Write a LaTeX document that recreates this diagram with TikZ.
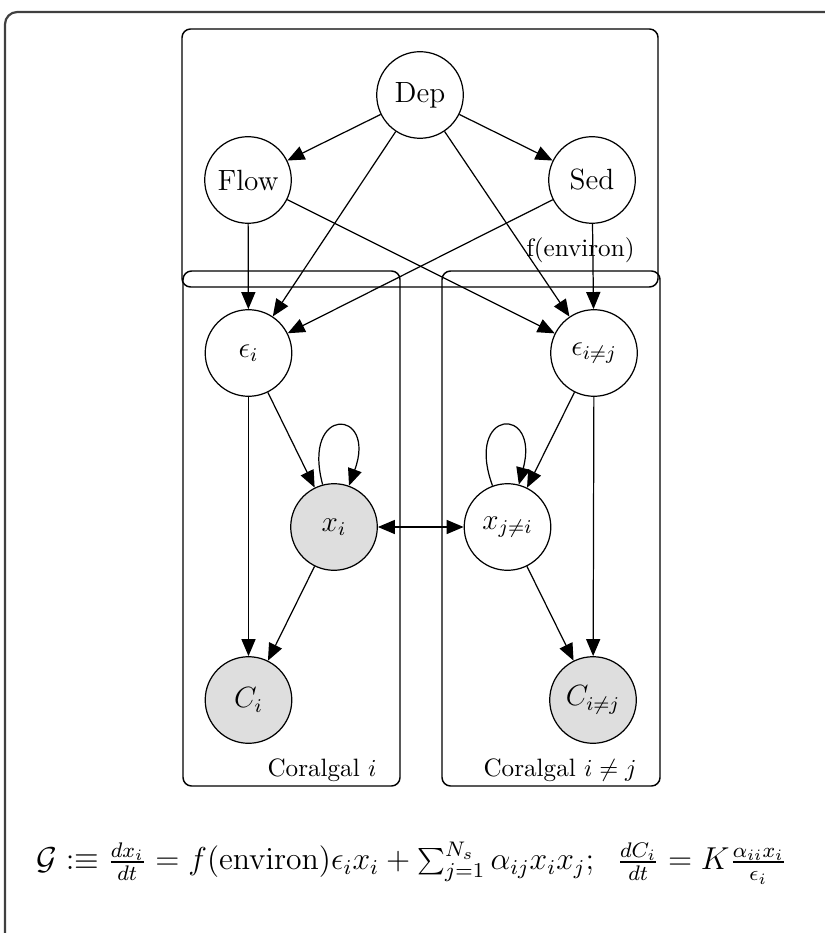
\documentclass[tikz,border=0pt]{standalone}
\usetikzlibrary{arrows.meta}
\begin{document}
\begin{tikzpicture}[x=0.41pt,y=-0.41pt,
  >={Triangle[length=7pt,width=5.8pt]},
  latent/.style={circle,draw,line width=0.5pt,minimum size=35.5pt,inner sep=0pt,font=\large},
  obs/.style={latent,fill=black!13},
  plate/.style={draw,line width=0.6pt,rounded corners=3.5pt},
  edge/.style={->,line width=0.5pt},
  lbl/.style={anchor=base east,inner sep=0pt,font=\fontsize{10.3}{12}\selectfont}]
\useasboundingbox (0,0) rectangle (824,933);
\draw[line width=0.9pt,black!75,rounded corners=5pt] (5,12) rectangle (850,960);
% plates
\draw[plate] (182,29) rectangle (658,287);
\draw[plate] (183,271) rectangle (400,786);
\draw[plate] (442,271) rectangle (660,786);
% nodes
\node[latent] (dep) at (420,95) {Dep};
\node[latent] (flow) at (248,180) {Flow};
\node[latent] (sed) at (592,180) {Sed};
\node[latent] (ei) at (248.5,353) {$\epsilon_i$};
\node[latent] (ej) at (594,353) {$\epsilon_{i\neq j}$};
\node[obs] (xi) at (334,527) {$x_i$};
\node[latent] (xj) at (507.5,527) {$x_{j\neq i}$};
\node[obs] (ci) at (248.5,700) {$C_i$};
\node[obs] (cj) at (593,700) {$C_{i\neq j}$};
% labels
\node[lbl] (fenv) at (635,257) {f(environ)};
\node[lbl] (labi) at (377,776) {Coralgal $i$};
\node[lbl] (labj) at (637,776) {Coralgal $i\neq j$};
\node[font=\large] (eq) at (411.5,863) {\scalebox{1.082}{$\mathcal{G} :\equiv \frac{dx_i}{dt} = f(\mathrm{environ})\epsilon_i x_i + \sum_{j=1}^{N_s}\alpha_{ij}x_ix_j;\;\; \frac{dC_i}{dt} = K\frac{\alpha_{ii}x_i}{\epsilon_i}$}};
% edges
\draw[edge] (dep) -- (flow);
\draw[edge] (dep) -- (sed);
\draw[edge] (dep) -- (ei);
\draw[edge] (dep) -- (ej);
\draw[edge] (flow) -- (ei);
\draw[edge] (flow) -- (ej);
\draw[edge] (sed) -- (ei);
\draw[edge] (sed) -- (ej);
\draw[edge] (ei) -- (xi);
\draw[edge] (ei) -- (ci);
\draw[edge] (xi) -- (ci);
\draw[edge] (xi) to[out=105,in=70,looseness=8] (xi);
\draw[edge,<->] (xi) -- (xj);
\draw[edge] (ej) -- (xj);
\draw[edge] (ej) -- (cj);
\draw[edge] (xj) -- (cj);
\draw[edge] (xj) to[out=110,in=75,looseness=8] (xj);
\end{tikzpicture}
\end{document}
